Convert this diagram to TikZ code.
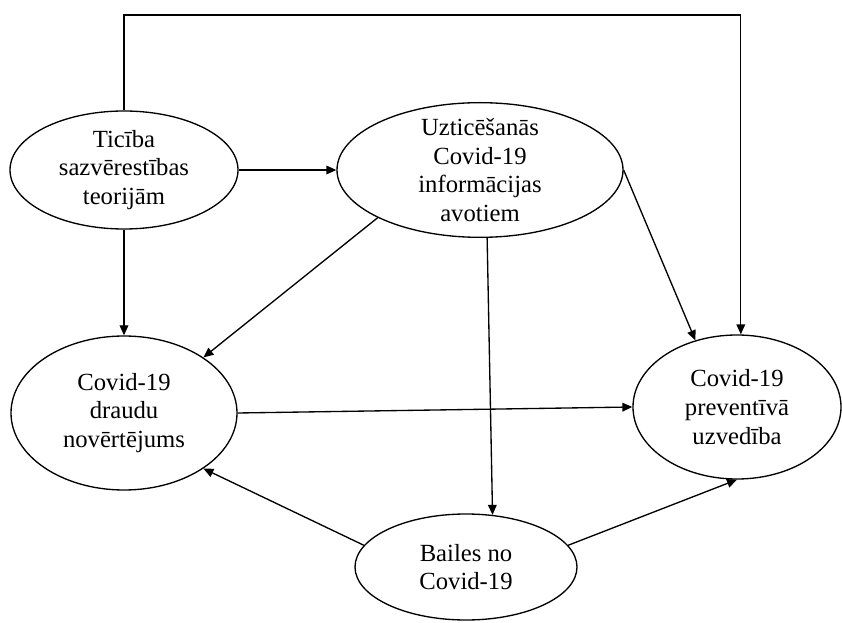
\documentclass[tikz,border=0pt]{standalone}
\usepackage{fontspec}
\setmainfont{Liberation Serif}
\usetikzlibrary{shapes.geometric,arrows.meta}

\begin{document}
\begin{tikzpicture}[x=0.75pt,y=-0.75pt]
	\tikzstyle{var} = [draw,ellipse,line width=1pt,inner sep=0pt];
	\tikzstyle{txt} = [align=center,font={\fontsize{18.5}{21.6}\selectfont}];
	\tikzstyle{arr} = [draw,line width=1pt,-{Triangle[length=7.5pt,width=6.5pt]}];
	\useasboundingbox (0,0) rectangle (842,623);
	\node [var,minimum width=171pt,minimum height=88.5pt,label={[txt]center:{Ticība\\sazvērestības\\teorijām}}] (belief) at (124,170) {};
	\node [var,minimum width=214.5pt,minimum height=101pt,label={[txt]center:{Uzticēšanās\\Covid-19\\informācijas\\avotiem}}] (trust) at (480,170) {};
	\node [var,minimum width=169.5pt,minimum height=115.5pt,label={[txt]center:{Covid-19\\draudu\\novērtējums}}] (threat) at (124,413) {};
	\node [var,minimum width=156pt,minimum height=108pt,label={[txt]center:{Covid-19\\preventīvā\\uzvedība}}] (prevent) at (737,407) {};
	\node [var,minimum width=166.5pt,minimum height=79.5pt,label={[txt]center:{Bailes no\\Covid-19}}] (fear) at (466,567) {};
	\coordinate (top) at (430,15);
	\path [arr] (belief.east) -- (trust.west);
	\path [arr] (belief.south) -- (threat.north);
	\path [arr] (trust.205) -- (threat.35);
	\path [arr] (trust.276) -- (fear.63);
	\path [arr] (trust.east) -- (prevent.122);
	\path [arr] (belief.north) |- (top) -| (prevent.87);
	\path [arr] (threat.east) -- (prevent.west);
	\path [arr] (fear.168) -- (threat.325);
	\path [arr] (fear.12) -- (prevent.south);
\end{tikzpicture}
\end{document}
